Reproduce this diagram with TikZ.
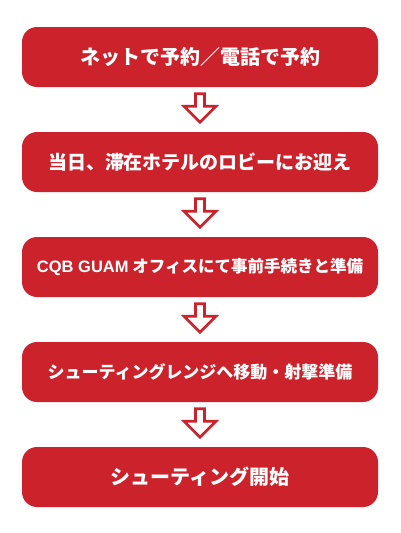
\documentclass[tikz,border=0pt]{standalone}
\usepackage{fontspec}
\newfontfamily\jp{Noto Sans CJK JP}[BoldFont={Noto Sans CJK JP Black}]
\newfontfamily\latin{Liberation Sans}
\definecolor{boxred}{HTML}{CC222B}
\begin{document}
\begin{tikzpicture}[x=1pt,y=-1pt,
  stepbox/.style={fill=boxred, rounded corners=15pt, minimum width=356pt, minimum height=60pt, inner sep=0pt, text=white, font=\jp\bfseries},
  downarrow/.style={draw=boxred, fill=white, line width=2.6pt, line join=miter}]
\useasboundingbox (0,0) rectangle (400,533);
\node[stepbox] (b1) at (200,57) {\fontsize{20}{24}\selectfont ネットで予約／電話で予約};
\node[stepbox] (b2) at (200,162) {\fontsize{19}{24}\selectfont 当日、滞在ホテルのロビーにお迎え};
\node[stepbox] (b3) at (200,267) {\fontsize{16.5}{22}\selectfont {\latin\bfseries CQB GUAM} オフィスにて事前手続きと準備};
\node[stepbox] (b4) at (200,372) {\fontsize{17}{22}\selectfont シューティングレンジへ移動・射撃準備};
\node[stepbox] (b5) at (200,477) {\fontsize{20}{24}\selectfont シューティング開始};
\foreach \a/\b in {b1/b2,b2/b3,b3/b4,b4/b5}{
  \path (\a.south) ++(0,6.5) coordinate (t);
  \draw[downarrow] (t) ++(-4.5,0) -- ++(9,0) -- ++(0,12.5) -- ++(11.5,0) -- ++(-16,16) -- ++(-16,-16) -- ++(11.5,0) -- cycle;
}
\end{tikzpicture}
\end{document}
